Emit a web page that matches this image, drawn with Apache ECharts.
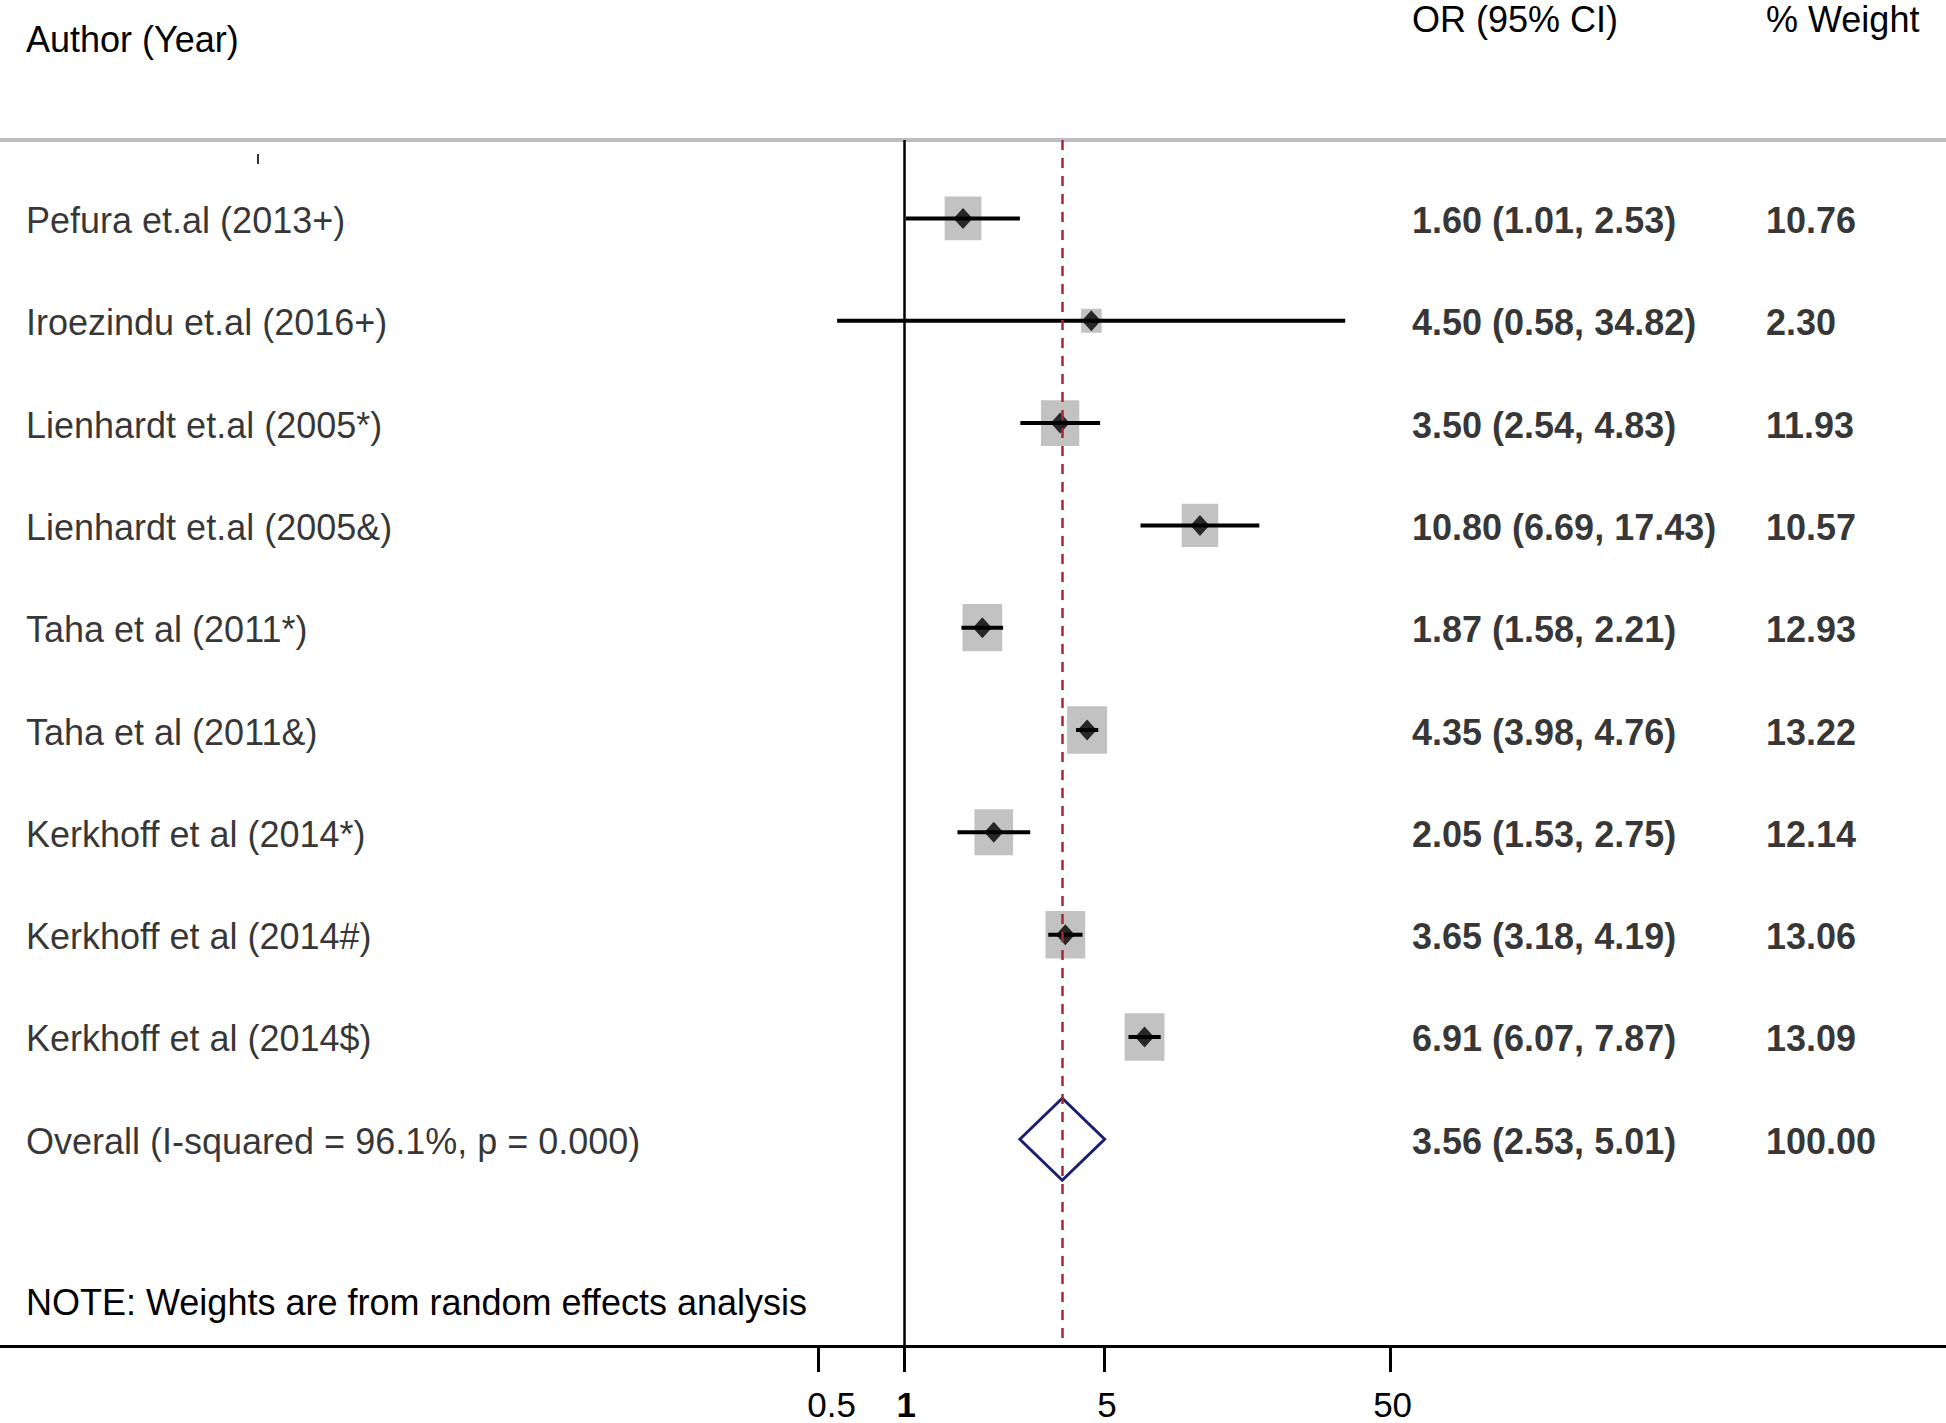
<!DOCTYPE html>
<html>
<head>
<meta charset="utf-8">
<script src="https://cdn.jsdelivr.net/npm/echarts@6/dist/echarts.min.js"></script>
<style>
html,body{margin:0;padding:0;background:#fff;}
#chart{width:1946px;height:1423px;}
</style>
</head>
<body>
<div id="chart"></div>
<script>
// ---- data ----
const authors = [
  'Pefura et.al (2013+)',
  'Iroezindu et.al (2016+)',
  'Lienhardt et.al (2005*)',
  'Lienhardt et.al (2005&)',
  'Taha et al (2011*)',
  'Taha et al (2011&)',
  'Kerkhoff et al (2014*)',
  'Kerkhoff et al (2014#)',
  'Kerkhoff et al (2014$)'
];
const orValues = [1.60, 4.50, 3.50, 10.80, 1.87, 4.35, 2.05, 3.65, 6.91];
const ciLower  = [1.01, 0.58, 2.54, 6.69, 1.58, 3.98, 1.53, 3.18, 6.07];
const ciUpper  = [2.53, 34.82, 4.83, 17.43, 2.21, 4.76, 2.75, 4.19, 7.87];
const weights  = [10.76, 2.30, 11.93, 10.57, 12.93, 13.22, 12.14, 13.06, 13.09];
const overallLabel = 'Overall (I-squared = 96.1%, p = 0.000)';
const overallOR = 3.56;
const overallLower = 2.53;
const overallUpper = 5.01;
const overallWeight = 100.00;
const tickValues = [0.5, 1, 5, 50];
const headerAuthor = 'Author (Year)';
const headerOR = 'OR (95% CI)';
const headerWeight = '% Weight';
const noteText = 'NOTE: Weights are from random effects analysis';

// ---- layout ----
const W = 1946;
const FONT = '"Liberation Sans", Arial, Helvetica, sans-serif';
const FS = 36;
const PX_ONE = 904.7, PX_DEC = 285.7;          // pixel of OR=1, pixels per decade
const xMin = Math.pow(10, -PX_ONE / PX_DEC);
const xMax = Math.pow(10, (W - PX_ONE) / PX_DEC);
const overallRow = authors.length;
const allLabels = authors.concat([overallLabel]);
const fmt = v => v.toFixed(2);
const orTexts = orValues.map((v, i) => fmt(v) + ' (' + fmt(ciLower[i]) + ', ' + fmt(ciUpper[i]) + ')')
  .concat([fmt(overallOR) + ' (' + fmt(overallLower) + ', ' + fmt(overallUpper) + ')']);
const wTexts = weights.map(fmt).concat([fmt(overallWeight)]);
const COL_AUTHOR = 26, COL_OR = 1412, COL_W = 1766;

function textSeries(colX, texts, bold) {
  return {
    type: 'scatter', xAxisIndex: 1, yAxisIndex: 0, z: 5, silent: true,
    symbolSize: 0, itemStyle: {color: 'rgba(0,0,0,0)'},
    data: texts.map((t, i) => [colX, i]),
    label: {
      show: true, position: 'right', distance: 0, offset: [0, 2],
      formatter: p => texts[p.dataIndex],
      fontFamily: FONT, fontSize: FS, color: '#000',
      fontWeight: bold ? 'bold' : 'normal'
    }
  };
}

const TFS = 35;
const tickRich = {
  h: {fontFamily: FONT, fontSize: TFS, lineHeight: 30, color: '#000', padding: [0, 0, 0, 26]},
  n: {fontFamily: FONT, fontSize: TFS, lineHeight: 30, color: '#000', padding: [0, 0, 0, 5]},
  b: {fontFamily: FONT, fontSize: TFS, lineHeight: 30, color: '#000', fontWeight: 'bold', padding: [0, 0, 0, 3]}
};

const chart = echarts.init(document.getElementById('chart'), null, {renderer: 'svg'});
const option = {
  animation: false,
  backgroundColor: '#fff',
  grid: {left: 0, right: 0, top: 140, bottom: 77},
  xAxis: [
    {
      type: 'log', logBase: 10, min: xMin, max: xMax, position: 'bottom',
      axisLine: {show: true, onZero: false, lineStyle: {color: '#000', width: 3}},
      axisTick: {show: true, length: 26, customValues: tickValues, lineStyle: {color: '#000', width: 3}},
      minorTick: {show: false},
      splitLine: {show: false},
      axisLabel: {
        show: true, customValues: tickValues, margin: 43,
        fontFamily: FONT, fontSize: TFS, lineHeight: 30, color: '#000',
        formatter: v => (v === 1 ? '{b|1}' : (v < 1 ? '{h|' + v + '}' : '{n|' + v + '}')),
        rich: tickRich
      }
    },
    {
      type: 'value', min: 0, max: W, position: 'top',
      axisLine: {show: true, onZero: false, lineStyle: {color: '#bdbdbd', width: 4}},
      axisTick: {show: false}, axisLabel: {show: false}, splitLine: {show: false}
    }
  ],
  yAxis: {type: 'value', inverse: true, min: -0.7666, max: 11.0205, show: false},
  series: [
    { // reference lines
      type: 'scatter', z: 1, data: [], silent: true,
      markLine: {
        silent: true, symbol: 'none', label: {show: false}, animation: false,
        data: [
          {xAxis: 1, lineStyle: {color: '#000', width: 2.5, type: 'solid'}},
          {xAxis: overallOR, lineStyle: {color: '#a3293b', width: 2.5, type: [10, 8]}}
        ]
      }
    },
    { // weight squares
      type: 'scatter', z: 2, silent: true, symbol: 'rect',
      data: orValues.map((v, i) => [v, i, weights[i]]),
      symbolSize: d => [9.1 * Math.sqrt(d[2]) + 6.9, 11.2 * Math.sqrt(d[2]) + 7],
      itemStyle: {color: '#b3b3b3'}
    },
    { // CI lines
      type: 'custom', z: 3, silent: true,
      data: ciLower.map((lo, i) => [lo, ciUpper[i], i]),
      encode: {x: [0, 1], y: 2},
      renderItem: (params, api) => {
        const a = api.coord([api.value(0), api.value(2)]);
        const b = api.coord([api.value(1), api.value(2)]);
        return {type: 'line', shape: {x1: a[0], y1: a[1], x2: b[0], y2: b[1]},
                style: {stroke: '#000', lineWidth: 4}};
      }
    },
    { // point estimates
      type: 'scatter', z: 4, silent: true, symbol: 'diamond', symbolSize: [19, 21],
      data: orValues.map((v, i) => [v, i]),
      itemStyle: {color: '#000'}
    },
    { // overall diamond
      type: 'custom', z: 3, silent: true,
      data: [[overallOR, overallLower, overallUpper, overallRow]],
      encode: {x: [0, 1, 2], y: 3},
      renderItem: (params, api) => {
        const c = api.coord([api.value(0), api.value(3)]);
        const l = api.coord([api.value(1), api.value(3)]);
        const r = api.coord([api.value(2), api.value(3)]);
        const h = 41;
        return {type: 'polygon',
          shape: {points: [[l[0], c[1]], [c[0], c[1] - h], [r[0], c[1]], [c[0], c[1] + h]]},
          style: {stroke: '#1b1f6e', lineWidth: 3, fill: 'none'}};
      }
    },
    textSeries(COL_AUTHOR, allLabels, false),
    textSeries(COL_OR, orTexts, true),
    textSeries(COL_W, wTexts, true)
  ],
  graphic: [
    {type: 'text', x: COL_AUTHOR, y: 39, silent: true,
     style: {text: headerAuthor, fontFamily: FONT, fontSize: FS, lineHeight: 34, fill: '#000', align: 'left', verticalAlign: 'middle'}},
    {type: 'text', x: COL_OR, y: 19, silent: true,
     style: {text: headerOR, fontFamily: FONT, fontSize: FS, lineHeight: 30, fill: '#000', align: 'left', verticalAlign: 'middle'}},
    {type: 'text', x: COL_W, y: 19, silent: true,
     style: {text: headerWeight, fontFamily: FONT, fontSize: FS, lineHeight: 30, fill: '#000', align: 'left', verticalAlign: 'middle'}},
    {type: 'text', x: COL_AUTHOR, y: 1302, silent: true,
     style: {text: noteText, fontFamily: FONT, fontSize: FS, fill: '#000', align: 'left', verticalAlign: 'middle'}},
    {type: 'line', silent: true, shape: {x1: 258, y1: 154, x2: 258, y2: 164},
     style: {stroke: '#333', lineWidth: 2}}
  ]
};
chart.setOption(option);
</script>
</body>
</html>
